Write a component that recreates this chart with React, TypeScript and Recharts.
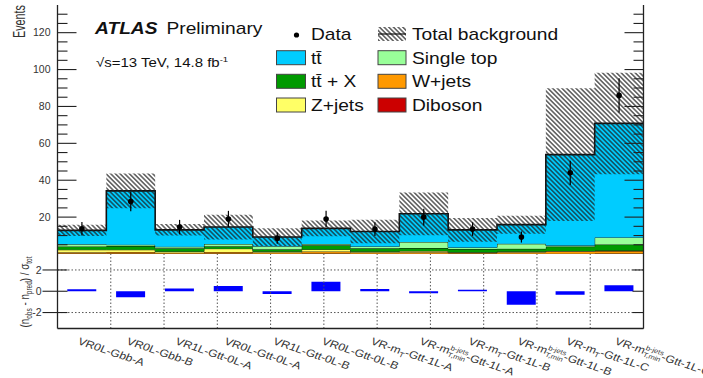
import React from 'react';
import { ComposedChart, Area, Scatter, ErrorBar, XAxis, YAxis, Bar, ReferenceLine } from 'recharts';

const FONT = '"Liberation Sans", Arial, Helvetica, sans-serif';

// ---- data ----
const regions = [
  'VR0L-Gbb-A', 'VR0L-Gbb-B', 'VR1L-Gtt-0L-A', 'VR0L-Gtt-0L-A', 'VR1L-Gtt-0L-B', 'VR0L-Gtt-0L-B',
  'VR-m_{T}-Gtt-1L-A', 'VR-m_{T,min}^{b-jets}-Gtt-1L-A', 'VR-m_{T}-Gtt-1L-B', 'VR-m_{T,min}^{b-jets}-Gtt-1L-B',
  'VR-m_{T}-Gtt-1L-C', 'VR-m_{T,min}^{b-jets}-Gtt-1L-C',
];
const diboson = [0.3, 0.3, 0.2, 0.3, 0.2, 0.3, 0.2, 0.2, 0.1, 0.2, 0.2, 0.3];
const wjets = [0.7, 0.8, 0.5, 0.8, 0.6, 1.0, 0.6, 0.8, 0.5, 0.8, 1.2, 1.3];
const zjets = [1.3, 1.2, 0.6, 1.8, 0.6, 1.2, 0.5, 0.6, 0.3, 0.3, 0.2, 0.3];
const ttx = [1.8, 2.0, 1.8, 1.3, 1.2, 2.2, 1.8, 1.6, 1.8, 1.5, 2.4, 3.2];
const singleTop = [1.2, 0.7, 0.8, 1.2, 1.6, 0.7, 1.0, 3.3, 0.8, 2.7, 0.6, 3.9];
const ttbar = [7.5, 29.2, 9.2, 9.2, 5.0, 8.5, 8.1, 15.3, 9.6, 10.4, 49.3, 61.8];
const bkgUnc = [3.0, 9.4, 3.1, 6.7, 4.8, 4.3, 6.4, 11.6, 6.4, 4.9, 36, 27.5];
const dataObs = [13.7, 28.5, 14.6, 19, 8.6, 19, 13.5, 20, 13.5, 9.2, 44, 86];
const dataErr = [3.7, 5.3, 3.9, 4.4, 3.0, 4.4, 3.7, 4.5, 3.7, 3.0, 6.6, 9.3];
const significance = [0.19, -0.57, 0.25, 0.5, -0.25, 0.9, 0.22, -0.19, 0.13, -1.27, -0.32, 0.57];

const majorTicks = [20, 40, 60, 80, 100, 120];
const minorStep = 5;
const ratioTicks = [-2, 0, 2];

const legendCol1 = [
  { label: 'Data', kind: 'data', color: '#000' },
  { label: 't\u0074\u0304', kind: 'box', color: '#00ccff' },
  { label: 't\u0074\u0304 + X', kind: 'box', color: '#009a00' },
  { label: 'Z+jets', kind: 'box', color: '#ffff66' },
];
const legendCol2 = [
  { label: 'Total background', kind: 'hatch', color: '#333' },
  { label: 'Single top', kind: 'box', color: '#99ff99' },
  { label: 'W+jets', kind: 'box', color: '#ff9900' },
  { label: 'Diboson', kind: 'box', color: '#cc0000' },
];

// ---- derived tables ----
const N = regions.length;
const edges = Array.from({ length: N + 1 }, (_, i) => i);
const edgeRows = edges.map((i) => {
  const k = Math.min(i, N - 1);
  const tot = diboson[k] + wjets[k] + zjets[k] + ttx[k] + singleTop[k] + ttbar[k];
  return {
    x: i,
    diboson: diboson[k], wjets: wjets[k], zjets: zjets[k], ttx: ttx[k], singleTop: singleTop[k], ttbar: ttbar[k],
    band: [Math.max(0, tot - bkgUnc[k]), tot + bkgUnc[k]],
  };
});
const dataRows = dataObs.map((v, i) => ({ x: i + 0.5, y: v, err: dataErr[i] }));
const ratioRows = regions.map((name, i) => ({ name, r: significance[i] }));
const yTicks: number[] = [];
for (let v = minorStep; v <= 130; v += minorStep) yTicks.push(v);

const AX = '#222';

// ---- tick renderers ----
const leftTick = (p: any) => {
  const v = p.payload.value;
  const major = majorTicks.includes(v);
  return (
    <g>
      <line x1={p.x} x2={p.x + (major ? 19 : 10)} y1={p.y} y2={p.y} stroke={AX} strokeWidth={1.1} />
      {major && (
        <text x={p.x - 7} y={p.y} dy={3.8} textAnchor="end" fontFamily={FONT} fontSize={10.5} fill="#333">{v}</text>
      )}
    </g>
  );
};
const rightTick = (p: any) => {
  const v = p.payload.value;
  const major = majorTicks.includes(v);
  return <line x1={p.x} x2={p.x - (major ? 19 : 10)} y1={p.y} y2={p.y} stroke={AX} strokeWidth={1.1} />;
};
const topTick = (p: any) => <line x1={p.x} x2={p.x} y1={p.y} y2={p.y + 6} stroke={AX} strokeWidth={1.1} />;

const ratioLeftTick = (p: any) => (
  <g>
    <line x1={p.x - 15} x2={p.x + 10} y1={p.y} y2={p.y} stroke={AX} strokeWidth={1.1} />
    <text x={p.x - 16} y={p.y} dy={3.8} textAnchor="end" fontFamily={FONT} fontSize={10.5} fill="#333">{p.payload.value}</text>
  </g>
);
const ratioRightTick = (p: any) => <line x1={p.x} x2={p.x - 11} y1={p.y} y2={p.y} stroke={AX} strokeWidth={1.1} />;

const xLabel = (p: any) => {
  const s: string = p.payload.value;
  const m = s.match(/^(.*?)_\{([^}]*)\}(?:\^\{([^}]*)\})?(.*)$/);
  let content: any = s;
  if (m && !m[3]) {
    content = [
      <tspan key="a">{m[1]}</tspan>,
      <tspan key="b" fontSize={7} dy={2.5}>{m[2]}</tspan>,
      <tspan key="c" dy={-2.5}>{m[4]}</tspan>,
    ];
  } else if (m) {
    content = [
      <tspan key="a">{m[1]}</tspan>,
      <tspan key="b" fontSize={6.5} dy={-4.5}>{m[3]}</tspan>,
      <tspan key="c" fontSize={6.5} dx={-15.9} dy={7}>{m[2]}</tspan>,
      <tspan key="d" dy={-2.5}>{m[4]}</tspan>,
    ];
  }
  return (
    <text transform={`translate(${p.x - 5},${p.y + 15.5}) scale(1.2,1) rotate(22)`} fontFamily={FONT} fontSize={10.3} fill="#333">
      {content}
    </text>
  );
};

const dataDot = (p: any) => <circle cx={p.cx} cy={p.cy} r={2.8} fill="#000" />;

const Hatch = ({ id }: { id: string }) => (
  <pattern id={id} patternUnits="userSpaceOnUse" width={3.3} height={3.3} patternTransform="rotate(-45)">
    <line x1={1.65} y1={-1} x2={1.65} y2={4.3} stroke="#1a1a1a" strokeWidth={1.1} />
  </pattern>
);

const layers = [
  { key: 'diboson', color: '#cc0000' },
  { key: 'wjets', color: '#ff9900' },
  { key: 'zjets', color: '#ffff66' },
  { key: 'ttx', color: '#009a00' },
  { key: 'singleTop', color: '#99ff99' },
  { key: 'ttbar', color: '#00ccff' },
];

function MainPanel() {
  return (
    <ComposedChart width={703} height={255} data={edgeRows} margin={{ top: 5, right: 0, bottom: 1, left: 0 }}>
      <defs>
        <Hatch id="hatchMain" />
      </defs>
      <XAxis dataKey="x" type="number" domain={[0, 12]} allowDataOverflow height={0} tick={false} tickLine={false}
        axisLine={{ stroke: AX, strokeWidth: 1.3 }} />
      <XAxis xAxisId="top" orientation="top" dataKey="x" type="number" domain={[0, 12]} allowDataOverflow height={0}
        ticks={edges} interval={0} tick={topTick} tickLine={false} tickSize={0} tickMargin={0}
        axisLine={{ stroke: AX, strokeWidth: 1.3 }} />
      <YAxis width={57.5} domain={[0, 135]} allowDataOverflow ticks={yTicks} interval={0} tick={leftTick}
        tickLine={false} tickSize={0} tickMargin={0} axisLine={{ stroke: AX, strokeWidth: 1.3 }} />
      <YAxis yAxisId="r" orientation="right" width={59.5} domain={[0, 135]} allowDataOverflow ticks={yTicks} interval={0}
        tick={rightTick} tickLine={false} tickSize={0} tickMargin={0} axisLine={{ stroke: AX, strokeWidth: 1.3 }} />
      {layers.map((l) => (
        <Area key={l.key} dataKey={l.key} stackId="s" type="stepAfter" fill={l.color} fillOpacity={1}
          stroke="#111" strokeWidth={l.key === 'ttbar' ? 1.6 : 0.9} dot={false} activeDot={false} isAnimationActive={false} />
      ))}
      <Area dataKey="band" type="stepAfter" fill="url(#hatchMain)" fillOpacity={1} stroke="none" dot={false}
        activeDot={false} isAnimationActive={false} />
      <Scatter data={dataRows} dataKey="y" shape={dataDot} isAnimationActive={false}>
        <ErrorBar dataKey="err" direction="y" width={0} stroke="#000" strokeWidth={1.2} />
      </Scatter>
    </ComposedChart>
  );
}

function RatioPanel() {
  return (
    <ComposedChart width={703} height={124} data={ratioRows} margin={{ top: 0, right: 0, bottom: 0, left: 0 }}
      barCategoryGap="20%">
      <XAxis dataKey="name" xAxisId="c" type="category" height={49.5} interval={0} tick={xLabel} tickLine={false}
        tickSize={0} tickMargin={0} axisLine={{ stroke: AX, strokeWidth: 1.3 }} />
      <XAxis xAxisId="n" type="number" domain={[0, 12]} allowDataOverflow hide />
      <YAxis yAxisId="l" width={57.5} domain={[-3.5, 3.5]} allowDataOverflow ticks={ratioTicks} interval={0}
        tick={ratioLeftTick} tickLine={false} tickSize={0} tickMargin={0} axisLine={{ stroke: AX, strokeWidth: 1.3 }} />
      <YAxis yAxisId="r" orientation="right" width={59.5} domain={[-3.5, 3.5]} allowDataOverflow ticks={ratioTicks}
        interval={0} tick={ratioRightTick} tickLine={false} tickSize={0} tickMargin={0}
        axisLine={{ stroke: AX, strokeWidth: 1.3 }} />
      {edges.slice(1, N).map((e) => (
        <ReferenceLine key={'v' + e} xAxisId="n" yAxisId="l" x={e} stroke="#555" strokeDasharray="1.5 2" strokeWidth={1} />
      ))}
      {[-2, 2].map((v) => (
        <ReferenceLine key={'h' + v} xAxisId="n" yAxisId="l" y={v} stroke="#555" strokeDasharray="1.5 2" strokeWidth={1} />
      ))}
      <Bar dataKey="r" xAxisId="c" yAxisId="l" fill="#0000ff" isAnimationActive={false} />
    </ComposedChart>
  );
}

function Overlay() {
  const rows = [34, 57.7, 81.3, 105];
  const txt = (x: number, y: number, s: string, key: string) => (
    <text key={key} transform={`translate(${x},${y}) scale(1.2,1)`} fontFamily={FONT} fontSize={16} fill="#111">{s}</text>
  );
  return (
    <svg width={703} height={378} style={{ position: 'absolute', left: 0, top: 0, pointerEvents: 'none' }}>
      <defs>
        <Hatch id="hatchLeg" />
      </defs>
      <text transform="translate(95,33.5) scale(1.2,1)" fontFamily={FONT} fontSize={16} fill="#111">
        <tspan fontWeight="bold" fontStyle="italic">ATLAS</tspan>
        <tspan dx={3}> Preliminary</tspan>
      </text>
      <text transform="translate(96,66.5) scale(1.2,1)" fontFamily={FONT} fontSize={12.5} fill="#111">
        √s=13 TeV, 14.8 fb<tspan fontSize={8} dy={-5}>-1</tspan>
      </text>
      <text transform="translate(25,5) scale(1.45,1) rotate(-90)" textAnchor="end" fontFamily={FONT} fontSize={10.8} fill="#333">Events</text>
      <text transform="translate(29,292) scale(1.3,1) rotate(-90)" textAnchor="middle" fontFamily={FONT} fontSize={9.8} fill="#333">
        (n<tspan fontSize={6.5} dy={2.5}>obs</tspan><tspan dy={-2.5}> - n</tspan><tspan fontSize={6.5} dy={2.5}>pred</tspan>
        <tspan dy={-2.5}>) / σ</tspan><tspan fontSize={6.5} dy={2.5}>tot</tspan>
      </text>
      {legendCol1.map((e, i) => {
        const cy = rows[i];
        return (
          <g key={'c1' + i}>
            {e.kind === 'data' ? (
              <circle cx={296.5} cy={cy + 1} r={2.6} fill="#000" />
            ) : (
              <rect x={276.5} y={cy - 7} width={29} height={14} fill={e.color} stroke="#444" strokeWidth={1} />
            )}
            {txt(311, cy + 6, e.label, 't1' + i)}
          </g>
        );
      })}
      {legendCol2.map((e, i) => {
        const cy = rows[i];
        return (
          <g key={'c2' + i}>
            {e.kind === 'hatch' ? (
              <g>
                <rect x={378} y={cy - 7} width={28} height={14} fill="url(#hatchLeg)" />
                <line x1={378} x2={406} y1={cy} y2={cy} stroke="#111" strokeWidth={1.2} />
              </g>
            ) : (
              <rect x={378} y={cy - 7} width={28} height={14} fill={e.color} stroke="#444" strokeWidth={1} />
            )}
            {txt(412, cy + 6, e.label, 't2' + i)}
          </g>
        );
      })}
    </svg>
  );
}

export default function App() {
  return (
    <div style={{ position: 'absolute', left: 0, top: 0, width: 703, height: 378, background: '#fff', overflow: 'hidden' }}>
      <div style={{ position: 'absolute', left: 0, top: 0 }}>
        <MainPanel />
      </div>
      <div style={{ position: 'absolute', left: 0, top: 254 }}>
        <RatioPanel />
      </div>
      <Overlay />
    </div>
  );
}
